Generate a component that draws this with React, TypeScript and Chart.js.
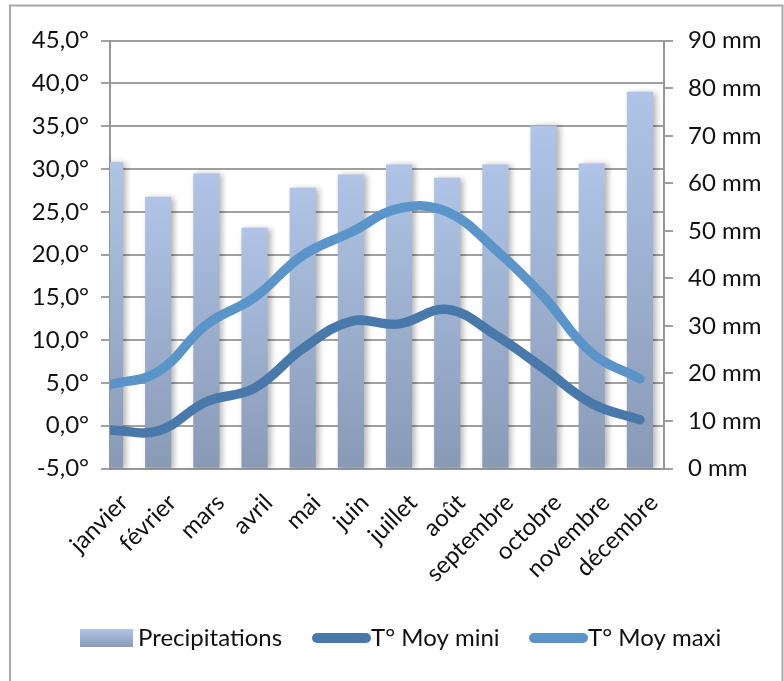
import React, { useEffect, useRef } from 'react';
import { Chart, registerables } from 'chart.js';

Chart.register(...registerables);

// Monthly climate data
const months = ['janvier', 'février', 'mars', 'avril', 'mai', 'juin', 'juillet', 'août', 'septembre', 'octobre', 'novembre', 'décembre'];
const precipitations = [64.4, 57.1, 62.0, 50.6, 59.0, 61.8, 63.9, 61.1, 63.9, 72.1, 64.1, 79.2];
const tempMini = [-0.5, -0.6, 2.8, 4.4, 9.0, 12.2, 11.9, 13.6, 10.6, 6.7, 2.6, 0.7];
const tempMaxi = [4.8, 6.3, 11.8, 15.0, 19.9, 22.6, 25.4, 25.0, 20.6, 15.1, 8.5, 5.5];
const seriesLabels = ['Precipitations', 'T° Moy mini', 'T° Moy maxi'];

// Axis ranges
const tempRange = { min: -5, max: 45, step: 5 };
const rainRange = { min: 0, max: 90, step: 10 };

const W = 784;
const H = 681;
const FONT_FAMILY = 'Lato, "Open Sans", sans-serif';
const FONT_SIZE = 24;
const TEXT = '#111111';
const GRID = '#a0a0a0';
const AXIS = '#969696';
const BAR_TOP = '#afc4e6';
const BAR_BOTTOM = '#899ab5';
const MINI = '#4978ab';
const MAXI = '#5b94c9';

const barGradient = (c: CanvasRenderingContext2D, top: number, bottom: number) => {
  const g = c.createLinearGradient(0, top, 0, bottom);
  g.addColorStop(0, BAR_TOP);
  g.addColorStop(1, BAR_BOTTOM);
  return g;
};

// Soft drop shadow under the columns
const shadowPlugin = {
  id: 'shadowPlugin',
  beforeDatasetDraw(chart: any, args: any) {
    const c = chart.ctx;
    c.save();
    if (chart.data.datasets[args.index].type === 'bar') {
      c.shadowColor = 'rgba(0,0,0,0.30)';
      c.shadowBlur = 6;
      c.shadowOffsetX = 3;
      c.shadowOffsetY = 1;
    }
  },
  afterDatasetDraw(chart: any) {
    chart.ctx.restore();
  },
};

// Outer frame of the chart
const framePlugin = {
  id: 'framePlugin',
  beforeDraw(chart: any) {
    const c = chart.ctx;
    c.save();
    c.fillStyle = '#ffffff';
    c.fillRect(0, 0, W, H);
    c.strokeStyle = '#a8a8a8';
    c.lineWidth = 2;
    c.strokeRect(10, 5.5, 772.5, H + 10);
    c.restore();
  },
};

// Legend drawn beneath the plot
const legendPlugin = {
  id: 'legendPlugin',
  afterDraw(chart: any) {
    const c = chart.ctx;
    const ds = chart.data.datasets;
    const cy = 638;
    c.save();
    c.font = `${FONT_SIZE}px ${FONT_FAMILY}`;
    c.fillStyle = TEXT;
    c.textBaseline = 'middle';
    c.textAlign = 'left';

    // Precipitations: gradient box
    c.fillStyle = barGradient(c, cy - 9, cy + 9);
    c.fillRect(80, cy - 9, 53, 18);
    c.fillStyle = TEXT;
    c.fillText(ds[0].label, 138, cy);

    // Temperature series: thick rounded strokes
    const lineItems = [
      { x0: 317, x1: 366, tx: 371, color: ds[1].borderColor, label: ds[1].label },
      { x0: 534, x1: 583, tx: 588, color: ds[2].borderColor, label: ds[2].label },
    ];
    lineItems.forEach((it) => {
      c.beginPath();
      c.strokeStyle = it.color;
      c.lineWidth = 10;
      c.lineCap = 'round';
      c.moveTo(it.x0, cy);
      c.lineTo(it.x1, cy);
      c.stroke();
      c.fillStyle = TEXT;
      c.fillText(it.label, it.tx, cy);
    });
    c.restore();
  },
};

export default function App() {
  const canvasRef = useRef<HTMLCanvasElement | null>(null);

  useEffect(() => {
    const canvas = canvasRef.current;
    if (!canvas) return;
    const font = { family: FONT_FAMILY, size: FONT_SIZE };

    const chart = new Chart(canvas, {
      type: 'bar',
      data: {
        datasets: [
          {
            type: 'bar',
            label: seriesLabels[0],
            data: months.map((_, i) => ({ x: i, y: precipitations[i] })),
            yAxisID: 'y2',
            barThickness: 25.5,
            borderWidth: 0,
            order: 5,
            backgroundColor: (ctx: any) => {
              const ch = ctx.chart;
              const s = ch.scales && ch.scales.y2;
              if (!s || ctx.dataIndex === undefined) return BAR_TOP;
              const top = s.getPixelForValue(precipitations[ctx.dataIndex]);
              const bottom = s.getPixelForValue(0);
              if (!Number.isFinite(top) || !Number.isFinite(bottom) || top === bottom) return BAR_TOP;
              return barGradient(ch.ctx, top, bottom);
            },
          },
          {
            type: 'line',
            label: seriesLabels[1],
            data: months.map((_, i) => ({ x: i, y: tempMini[i] })),
            yAxisID: 'y',
            borderColor: MINI,
            borderWidth: 9.5,
            tension: 0.4,
            pointRadius: 0,
            borderCapStyle: 'round',
            borderJoinStyle: 'round',
            fill: false,
            order: 1,
          },
          {
            type: 'line',
            label: seriesLabels[2],
            data: months.map((_, i) => ({ x: i, y: tempMaxi[i] })),
            yAxisID: 'y',
            borderColor: MAXI,
            borderWidth: 9.5,
            tension: 0.4,
            pointRadius: 0,
            borderCapStyle: 'round',
            borderJoinStyle: 'round',
            fill: false,
            order: 0,
          },
        ] as any,
      },
      options: {
        responsive: false,
        animation: false,
        events: [],
        layout: { padding: { top: 40.7, left: 0, right: 0, bottom: 0 } },
        plugins: {
          legend: { display: false },
          tooltip: { enabled: false },
        },
        scales: {
          x: {
            type: 'linear',
            min: 0,
            max: 11.5,
            offset: false,
            afterBuildTicks: (s: any) => {
              s.ticks = months.map((_, i) => ({ value: i }));
            },
            ticks: {
              autoSkip: false,
              maxRotation: 45,
              minRotation: 45,
              padding: 12,
              labelOffset: 14,
              color: TEXT,
              font,
              callback: (_v: any, i: number) => months[i],
            },
            grid: { display: false, offset: false },
            border: { display: true, color: AXIS, width: 2 },
            afterFit: (s: any) => {
              s.height = H - 468.5;
            },
          },
          y: {
            type: 'linear',
            position: 'left',
            min: tempRange.min,
            max: tempRange.max,
            ticks: {
              stepSize: tempRange.step,
              padding: 12,
              color: TEXT,
              font,
              callback: (v: any) => Number(v).toFixed(1).replace('.', ',') + '°',
            },
            grid: { color: GRID, lineWidth: 2, tickLength: 9, drawTicks: true },
            border: { display: true, color: AXIS, width: 2 },
            afterFit: (s: any) => {
              s.width = 110;
            },
          },
          y2: {
            type: 'linear',
            position: 'right',
            min: rainRange.min,
            max: rainRange.max,
            ticks: {
              stepSize: rainRange.step,
              padding: 15,
              color: TEXT,
              font,
              callback: (v: any) => `${v} mm`,
            },
            grid: { color: GRID, lineWidth: 2, tickLength: 9, drawTicks: true, drawOnChartArea: false },
            border: { display: true, color: AXIS, width: 2 },
            afterFit: (s: any) => {
              s.width = W - 664;
            },
          },
        },
      } as any,
      plugins: [framePlugin, shadowPlugin, legendPlugin],
    });

    return () => chart.destroy();
  }, []);

  return (
    <div style={{ position: 'absolute', left: 0, top: 0, width: W, height: H, background: '#fff' }}>
      <canvas ref={canvasRef} width={W} height={H} style={{ display: 'block', width: W, height: H }} />
    </div>
  );
}
